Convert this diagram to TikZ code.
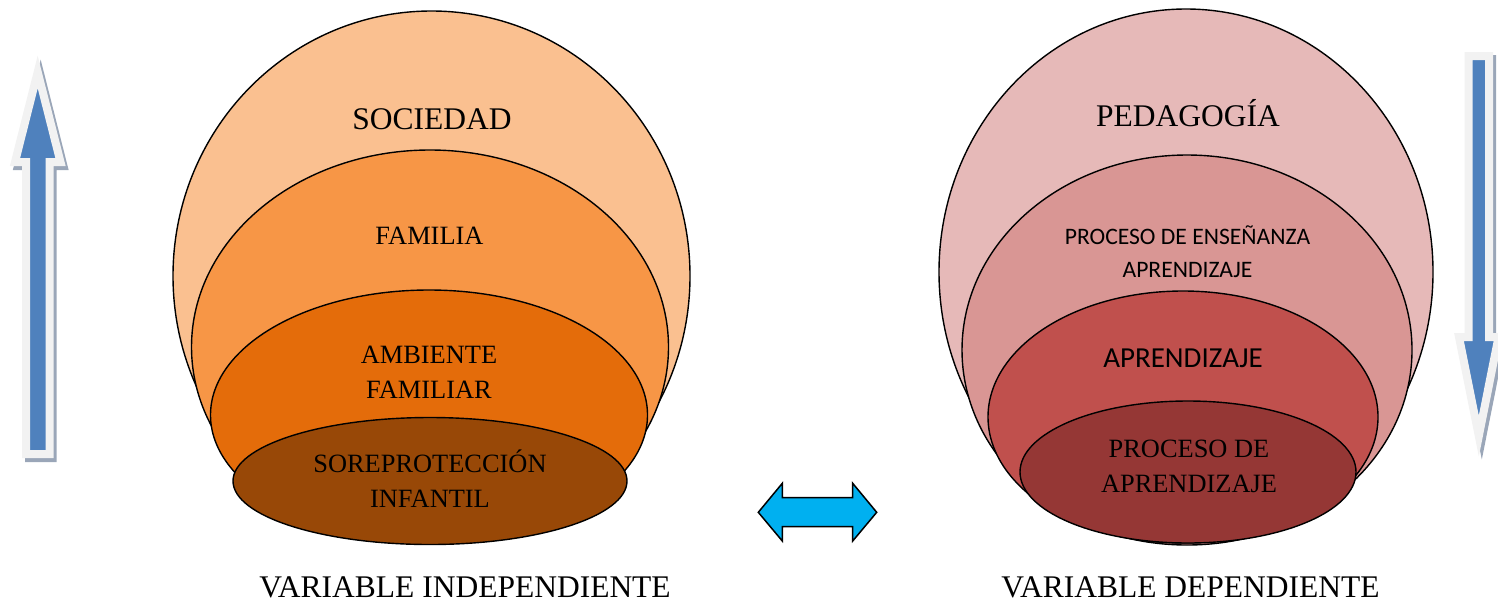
\documentclass[tikz,border=0pt]{standalone}
\usepackage{fontspec}
\setmainfont{Liberation Serif}
\newfontfamily\calib{Carlito}
\usetikzlibrary{shapes.geometric}
\definecolor{socC}{HTML}{FAC090}
\definecolor{famC}{HTML}{F79646}
\definecolor{ambC}{HTML}{E46C0A}
\definecolor{sobC}{HTML}{984807}
\definecolor{pedC}{HTML}{E6B9B8}
\definecolor{ensC}{HTML}{D99694}
\definecolor{aprC}{HTML}{C0504D}
\definecolor{proC}{HTML}{953735}
\definecolor{arrBlue}{HTML}{4F81BD}
\definecolor{arrRim}{HTML}{F2F2F2}
\definecolor{arrShadow}{HTML}{9AA6B8}
\definecolor{dblC}{HTML}{00B0F0}
\begin{document}
\begin{tikzpicture}[x=1pt,y=-1pt,
  ring/.style={ellipse, draw=black, line width=1.4pt, inner sep=0pt},
  big/.style={font=\fontsize{31.5}{38}\selectfont, anchor=base, inner sep=0pt},
  mid/.style={font=\fontsize{26.4}{35}\selectfont, align=center, anchor=base, inner sep=0pt},
  arrowbody/.style={fill=arrBlue, draw=arrRim, line width=8pt, line join=miter, miter limit=10},
  arrowshadow/.style={fill=arrShadow, draw=arrShadow, line width=8pt, line join=miter, miter limit=10}]
\useasboundingbox (0,0) rectangle (1498,603);

% ---- left nested ellipses
\node[ring, fill=socC, minimum width=517pt, minimum height=530pt] (soc) at (431.5,276) {};
\node[ring, fill=famC, minimum width=477pt, minimum height=394pt] (fam) at (430,347) {};
\node[ring, fill=ambC, minimum width=437pt, minimum height=250pt] (amb) at (429,415) {};
\node[ring, fill=sobC, minimum width=394pt, minimum height=127pt] (sob) at (430,481) {};

\node[big] (tsoc) at (432,129) {SOCIEDAD};
\node[mid] (tfam) at (429.5,244) {FAMILIA};
\node[mid] (tamb) at (429,398) {AMBIENTE\\FAMILIAR};
\node[mid] (tsob) at (430,507) {SOREPROTECCIÓN\\INFANTIL};
\node[big] (vind) at (465,597) {VARIABLE INDEPENDIENTE};

% ---- right nested ellipses
\node[ring, fill=pedC, minimum width=494pt, minimum height=526pt] (ped) at (1186,272) {};
\node[ring, fill=ensC, minimum width=450pt, minimum height=390pt] (ens) at (1187,350) {};
\node[ring, fill=aprC, minimum width=390pt, minimum height=252pt] (apr) at (1183,417) {};
\node[ring, fill=proC, minimum width=336pt, minimum height=142pt] (pro) at (1188,472) {};

\node[big] (tped) at (1188,126) {PEDAGOGÍA};
\node[font=\calib\fontsize{23.6}{33}\selectfont, align=center, anchor=base, inner sep=0pt] (tens) at (1187.5,277) {PROCESO DE ENSEÑANZA\\APRENDIZAJE};
\node[font=\calib\fontsize{29}{35}\selectfont, anchor=base, inner sep=0pt] (tapr) at (1183,367) {APRENDIZAJE};
\node[mid] (tpro) at (1189,492) {PROCESO DE\\APRENDIZAJE};
\node[big] (vdep) at (1190.5,597) {VARIABLE DEPENDIENTE};

% ---- left up arrow
\begin{scope}[shift={(3,4)}]
\draw[arrowshadow] (37.7,72) -- (60.5,162) -- (49.5,162) -- (49.5,454) -- (26,454) -- (26,162) -- (15,162) -- cycle;
\end{scope}
\draw[arrowbody] (37.7,72) -- (60.5,162) -- (49.5,162) -- (49.5,454) -- (26,454) -- (26,162) -- (15,162) -- cycle;

% ---- right down arrow
\begin{scope}[shift={(3,3)}]
\draw[arrowshadow] (1468.7,56) -- (1489,56) -- (1489,337) -- (1498.5,337) -- (1478.8,436) -- (1459,337) -- (1468.7,337) -- cycle;
\end{scope}
\draw[arrowbody] (1468.7,56) -- (1489,56) -- (1489,337) -- (1498.5,337) -- (1478.8,436) -- (1459,337) -- (1468.7,337) -- cycle;

% ---- double arrow
\draw[fill=dblC, draw=black, line width=1.5pt, line join=miter]
  (758.3,512.3) -- (782.3,483.3) -- (782.3,497.7) -- (852.7,497.7) -- (852.7,483.3)
  -- (876.7,512.3) -- (852.7,541) -- (852.7,526.7) -- (782.3,526.7) -- (782.3,541) -- cycle;
\end{tikzpicture}
\end{document}
